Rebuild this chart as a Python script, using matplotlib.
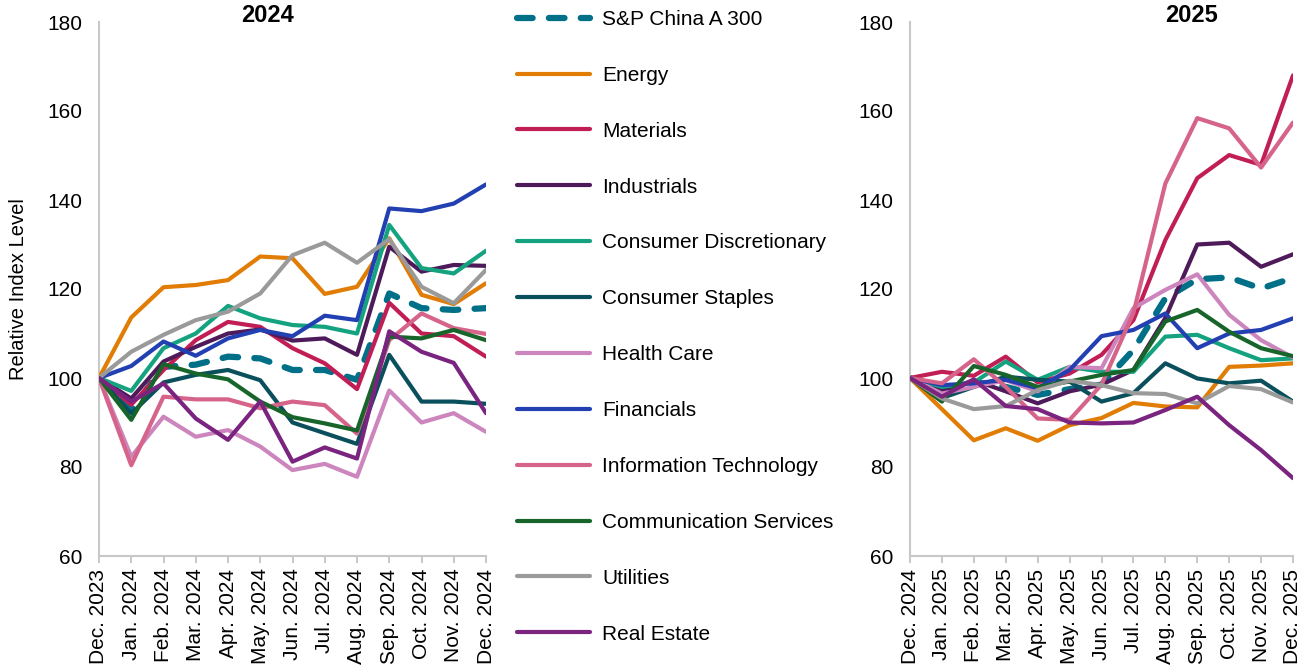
import matplotlib
matplotlib.use("Agg")
import matplotlib.pyplot as plt

plt.rcParams['font.family'] = ['Liberation Sans', 'DejaVu Sans']

# Month labels for each panel
months_2024 = ["Dec. 2023", "Jan. 2024", "Feb. 2024", "Mar. 2024", "Apr. 2024", "May. 2024",
               "Jun. 2024", "Jul. 2024", "Aug. 2024", "Sep. 2024", "Oct. 2024", "Nov. 2024", "Dec. 2024"]
months_2025 = ["Dec. 2024", "Jan. 2025", "Feb. 2025", "Mar. 2025", "Apr. 2025", "May. 2025",
               "Jun. 2025", "Jul. 2025", "Aug. 2025", "Sep. 2025", "Oct. 2025", "Nov. 2025", "Dec. 2025"]

names = ["S&P China A 300", "Energy", "Materials", "Industrials", "Consumer Discretionary",
         "Consumer Staples", "Health Care", "Financials", "Information Technology",
         "Communication Services", "Utilities", "Real Estate"]
colors = ["#006F88", "#E17C05", "#C21E56", "#4E1A5A", "#14A27F", "#0A4F5C",
          "#CC85BD", "#2340B3", "#D6648A", "#17652A", "#9A9A9A", "#7A2480"]

# relative index levels, 2024 panel
sp300_24 = [100, 92.8, 102.5, 103, 104.8, 104.4, 101.8, 101.8, 99.6, 119, 115.7, 115.3, 115.7]
energy_24 = [100, 113.6, 120.4, 120.9, 122, 127.3, 126.9, 118.9, 120.5, 131.4, 118.7, 116.6, 121.3]
materials_24 = [100, 94, 101.8, 108.5, 112.6, 111.5, 106.7, 103.3, 97.5, 116.9, 110, 109.4, 104.8]
industrials_24 = [100, 95.4, 103.7, 107, 110, 110.9, 108.4, 108.9, 105.2, 129.5, 123.9, 125.4, 125.2]
cons_disc_24 = [100, 97.1, 106.7, 110, 116.2, 113.4, 111.9, 111.5, 110, 134.4, 124.7, 123.5, 128.6]
cons_stap_24 = [100, 92, 99, 100.7, 101.8, 99.5, 90, 87.6, 85.2, 105.2, 94.7, 94.7, 94.2]
health_24 = [100, 82.3, 91.3, 86.8, 88.3, 84.6, 79.3, 80.7, 77.8, 97.2, 90, 92.1, 87.9]
financials_24 = [100, 102.7, 108.2, 105, 108.9, 110.8, 109.4, 114, 113, 138.1, 137.5, 139.2, 143.5]
info_tech_24 = [100, 80.4, 95.8, 95.2, 95.2, 93.2, 94.7, 93.9, 87.5, 108.5, 114.5, 111.2, 109.9]
comm_24 = [100, 90.6, 103.1, 101, 99.7, 94.7, 91.2, 89.8, 88.2, 109.3, 108.9, 110.8, 108.5]
utilities_24 = [100, 105.9, 109.7, 113, 114.9, 119, 127.6, 130.4, 125.9, 131.2, 120.5, 116.8, 124.3]
real_est_24 = [100, 94.7, 98.8, 90.9, 86.1, 94.7, 81.2, 84.4, 81.9, 110.5, 105.9, 103.4, 92.1]

# relative index levels, 2025 panel
sp300_25 = [100, 97.3, 99, 98, 96.2, 97.5, 98.5, 106.3, 117.9, 122.2, 122.6, 120.1, 122.5]
energy_25 = [100, 93, 86, 88.7, 85.9, 89.4, 91, 94.4, 93.6, 93.4, 102.5, 102.8, 103.3]
materials_25 = [100, 101.4, 100.5, 104.8, 99, 101, 105.2, 113, 131, 144.9, 150.1, 147.9, 168]
industrials_25 = [100, 97, 99.5, 97, 94.3, 97, 98.5, 101.8, 113.5, 130, 130.4, 125, 127.8]
cons_disc_25 = [100, 98, 99, 103.7, 99.6, 102.5, 101.4, 101.4, 109.3, 109.7, 106.7, 104, 104.4]
cons_stap_25 = [100, 95.5, 98, 100.3, 99.6, 99.2, 94.7, 96.6, 103.3, 99.9, 98.8, 99.4, 94.7]
health_25 = [100, 96.5, 98, 99.5, 97, 102.5, 102.2, 115.7, 119.8, 123.3, 114.2, 108.5, 104.6]
financials_25 = [100, 98.4, 98.8, 99.6, 97.7, 101.8, 109.4, 110.8, 114.5, 106.7, 110, 110.8, 113.4]
info_tech_25 = [100, 98.8, 104.2, 98, 90.9, 90.6, 98.5, 114.6, 143.7, 158.4, 156.1, 147.3, 157.4]
comm_25 = [100, 94.7, 102.7, 100.7, 98, 99.2, 100.7, 101.8, 112.7, 115.3, 110.4, 106.7, 104.9]
utilities_25 = [100, 95.4, 93, 93.7, 97.3, 99.4, 98.4, 96.6, 96.4, 94.3, 98.2, 97.5, 94.5]
real_est_25 = [100, 95.8, 99.7, 93.7, 93, 90, 89.8, 90, 92.8, 95.8, 89.4, 83.8, 77.5]

data_24 = [sp300_24, energy_24, materials_24, industrials_24, cons_disc_24, cons_stap_24,
           health_24, financials_24, info_tech_24, comm_24, utilities_24, real_est_24]
data_25 = [sp300_25, energy_25, materials_25, industrials_25, cons_disc_25, cons_stap_25,
           health_25, financials_25, info_tech_25, comm_25, utilities_25, real_est_25]

W, H = 1309, 668
fig = plt.figure(figsize=(W / 100, H / 100), dpi=100)
ax1 = fig.add_axes([99 / W, 1 - 556 / H, (486 - 99) / W, 534 / H])
ax2 = fig.add_axes([910 / W, 1 - 556 / H, (1293 - 910) / W, 534 / H])


def draw_panel(ax, months, series):
    x = list(range(len(months)))
    handles = []
    for i, (name, vals) in enumerate(zip(names, series)):
        if i == 0:
            h, = ax.plot(x, vals, color=colors[i], lw=4.5, dashes=(2.5, 2.6),
                         dash_capstyle='round', label=name, zorder=2)
        else:
            h, = ax.plot(x, vals, color=colors[i], lw=3, solid_capstyle='round',
                         label=name, zorder=3)
        handles.append(h)
    ax.set_xlim(0, len(months) - 1)
    ax.set_ylim(60, 180)
    ax.set_yticks(range(60, 181, 20))
    ax.set_xticks(x)
    ax.set_xticklabels(months, rotation=90, fontsize=15)
    ax.tick_params(axis='y', length=0, labelsize=15, pad=12)
    ax.tick_params(axis='x', length=5, color='#BFBFBF', width=1.2, pad=4)
    for s in ['top', 'right']:
        ax.spines[s].set_visible(False)
    for s in ['left', 'bottom']:
        ax.spines[s].set_color('#C8C8C8')
        ax.spines[s].set_linewidth(1.5)
    return handles


handles = draw_panel(ax1, months_2024, data_24)
draw_panel(ax2, months_2025, data_25)

ax1.set_ylabel("Relative Index Level", fontsize=14.5, labelpad=14)
fig.text(268 / W, 1 - 15 / H, "2024", fontsize=17, fontweight='bold', ha='center', va='center')
fig.text(1191 / W, 1 - 15 / H, "2025", fontsize=17, fontweight='bold', ha='center', va='center')

fig.legend(handles=handles, loc='upper left', bbox_to_anchor=(517 / W, 1 - 10 / H),
           frameon=False, fontsize=15, handlelength=3.5, handletextpad=0.6,
           labelspacing=1.77, borderpad=0, borderaxespad=0)

fig.savefig("out.png", dpi=100)
